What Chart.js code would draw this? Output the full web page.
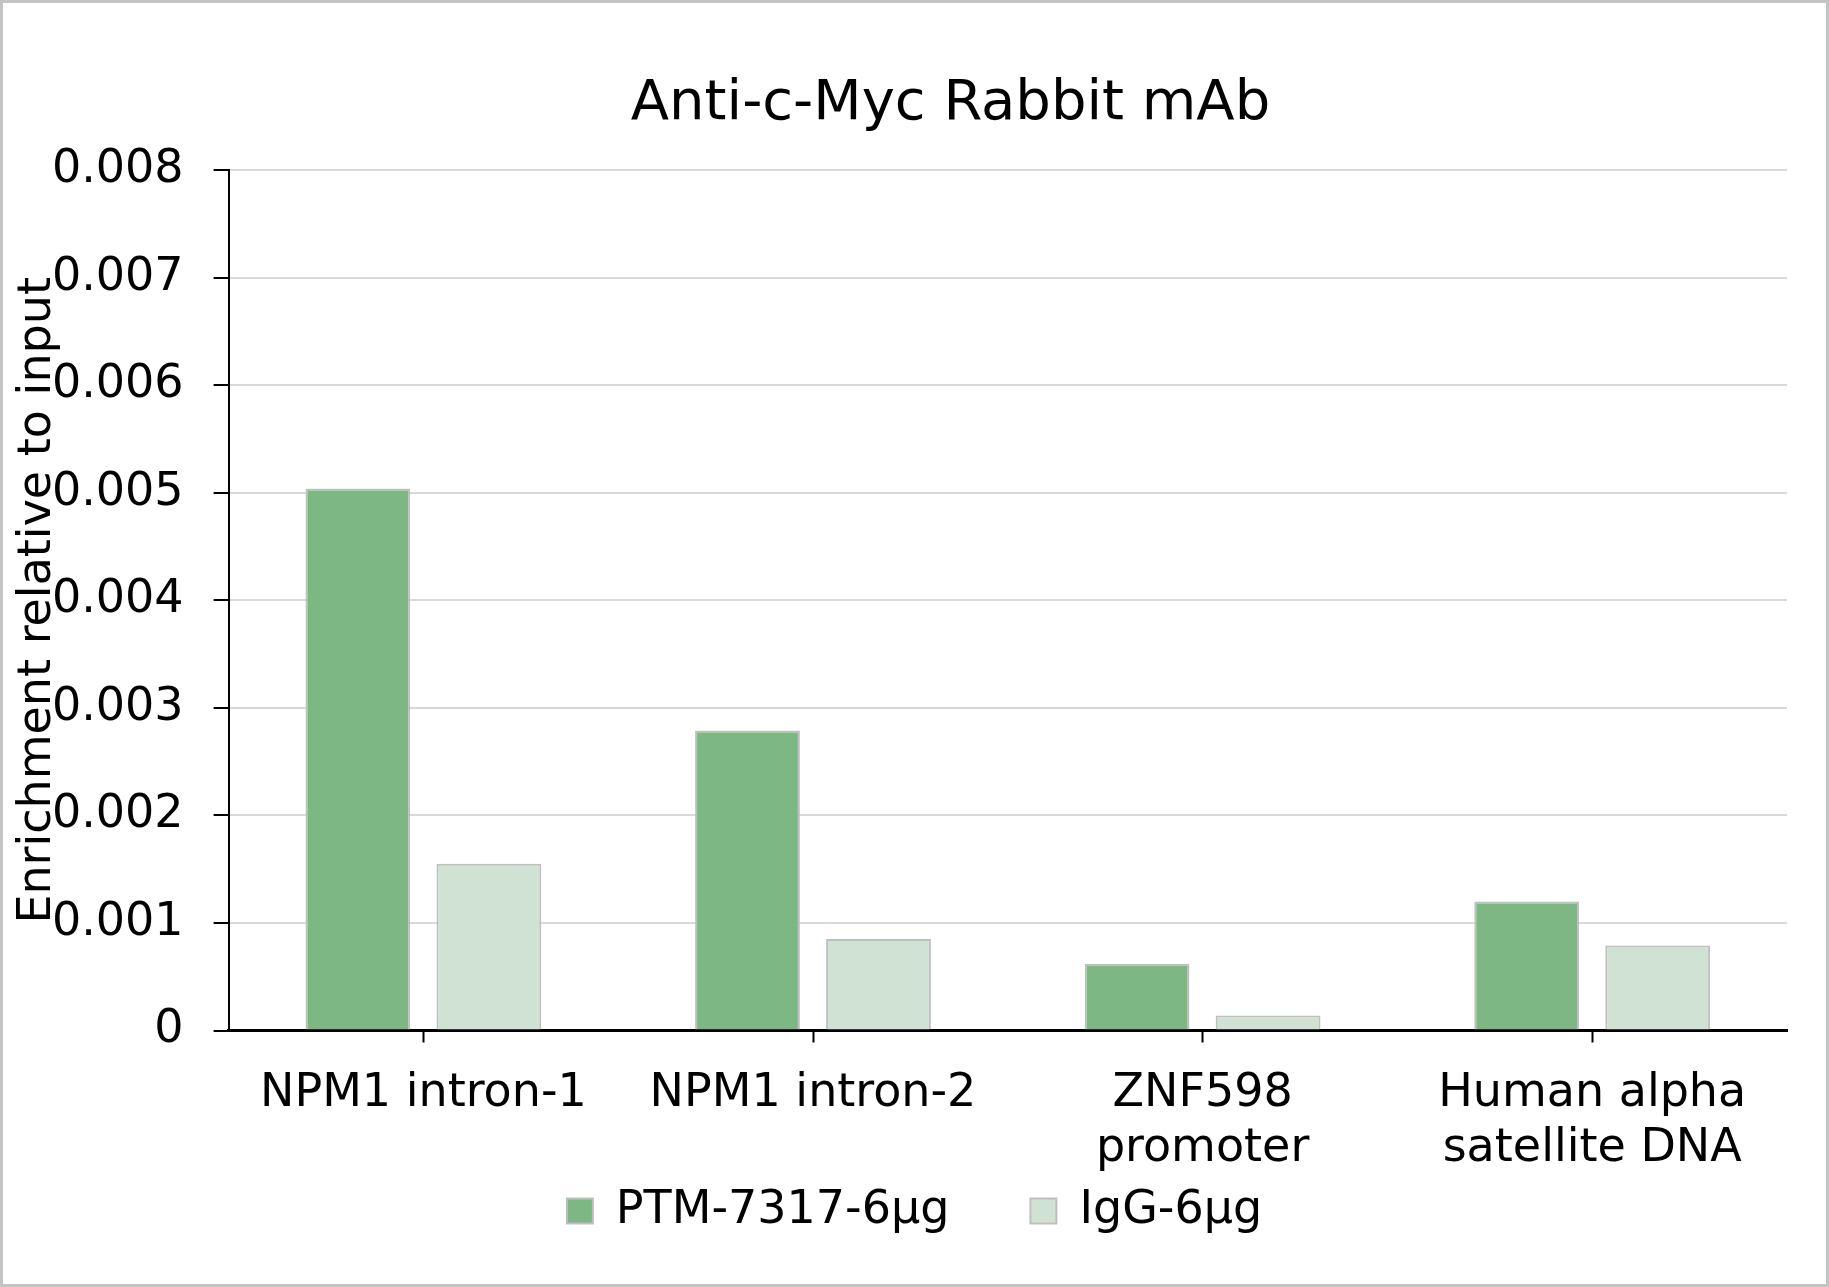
<!DOCTYPE html>
<html lang="en">

<head>
  <meta charset="UTF-8">
  <title>Anti-c-Myc Rabbit mAb</title>
  <script src="https://cdn.jsdelivr.net/npm/chart.js@4.4.1/dist/chart.umd.min.js"></script>
  <style>
    html, body { margin: 0; padding: 0; background: #fff; }
    .wrap { position: relative; width: 1829px; height: 1287px; }
    .wrap::after {
      content: ""; position: absolute; inset: 0;
      border: 3px solid #c4c4c4; pointer-events: none;
    }
  </style>
</head>

<body>
  <div class="wrap">
    <canvas id="chipChart" width="1829" height="1287"></canvas>
  </div>

  <script>
    // data
    const categories = ['NPM1 intron-1', 'NPM1 intron-2', ['ZNF598', 'promoter'], ['Human alpha', 'satellite DNA']];
    const ptmValues = [0.00504, 0.00279, 0.00062, 0.00120];
    const iggValues = [0.00155, 0.00085, 0.00014, 0.00079];
    const seriesNames = ['PTM-7317-6µg', 'IgG-6µg'];
    const yTicks = { min: 0, max: 0.008, step: 0.001 };

    const FONT = "'DejaVu Sans', Verdana, sans-serif";
    Chart.defaults.font.family = FONT;
    Chart.defaults.color = '#000';

    // the original title sits a bit right of the page centre
    const titleShift = {
      id: 'titleShift',
      afterLayout(chart) {
        const t = chart.titleBlock;
        if (t) { t.left += 36; t.right += 36; }
      }
    };

    const ctx = document.getElementById('chipChart').getContext('2d');

    const chart = new Chart(ctx, {
      type: 'bar',
      data: {
        labels: categories,
        datasets: [{
          label: seriesNames[0],
          data: ptmValues,
          backgroundColor: '#7db784',
          borderColor: '#bfbfbf',
          borderWidth: 2,
          categoryPercentage: 0.6725,
          barPercentage: 0.8
        }, {
          label: seriesNames[1],
          data: iggValues,
          backgroundColor: '#cfe2d4',
          borderColor: '#bfbfbf',
          borderWidth: 2,
          categoryPercentage: 0.6725,
          barPercentage: 0.8
        }]
      },
      plugins: [titleShift],
      options: {
        responsive: false,
        animation: false,
        layout: {
          padding: { left: 42, right: 42, top: 0, bottom: 43 }
        },
        plugins: {
          tooltip: { enabled: false },
          title: {
            display: true,
            text: 'Anti-c-Myc Rabbit mAb',
            color: '#000',
            font: { size: 56, weight: 'normal' },
            padding: { top: 71, bottom: 32 }
          },
          legend: {
            position: 'bottom',
            labels: {
              boxWidth: 26,
              boxHeight: 25,
              padding: 81,
              color: '#000',
              font: { size: 46 }
            }
          }
        },
        scales: {
          x: {
            offset: true,
            grid: {
              offset: false,
              drawOnChartArea: false,
              tickColor: '#000',
              tickWidth: 2,
              tickLength: 12
            },
            border: { color: '#000', width: 3 },
            ticks: {
              padding: 24,
              maxRotation: 0,
              autoSkip: false,
              color: '#000',
              font: { size: 46, lineHeight: 1.2 }
            },
            afterFit: (scale) => {
              scale.height = 76.5;
              // two-line labels run past the axis box, don't clip them
              scale._computeLabelArea = () => undefined;
            }
          },
          y: {
            min: yTicks.min,
            max: yTicks.max,
            grid: {
              color: (c) => (c.tick && c.tick.value === 0 ? 'rgba(0,0,0,0)' : '#d9d9d9'),
              lineWidth: 2,
              tickColor: '#000',
              tickWidth: 2,
              tickLength: 15
            },
            border: { color: '#000', width: 2 },
            ticks: {
              stepSize: yTicks.step,
              padding: 30,
              color: '#000',
              font: { size: 46 },
              callback: (v) => (v === 0 ? '0' : v.toFixed(3))
            },
            title: {
              display: true,
              text: 'Enrichment relative to input',
              color: '#000',
              font: { size: 46 },
              padding: { top: -31.6, bottom: 0 }
            },
            afterFit: (scale) => { scale.width = 186.6; }
          }
        }
      }
    });
  </script>

</body>
</html>
